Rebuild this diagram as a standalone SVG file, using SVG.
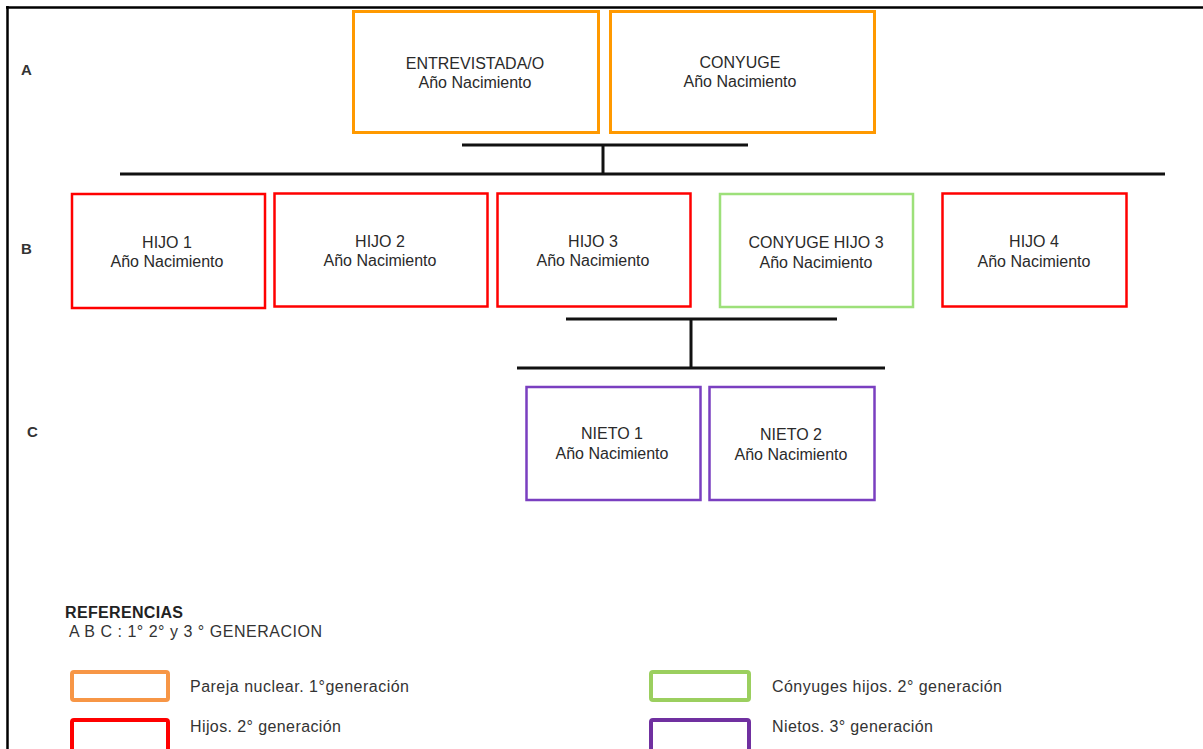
<svg xmlns="http://www.w3.org/2000/svg" width="1203" height="749" viewBox="0 0 1203 749">
<style>
.t{font-family:"Liberation Sans",Arial,sans-serif;font-size:16px;fill:#2a2a2a;text-anchor:middle}
.lbl{font-family:"Liberation Sans",Arial,sans-serif;font-size:15px;font-weight:bold;fill:#333}
.lg{font-family:"Liberation Sans",Arial,sans-serif;font-size:16px;fill:#333}
.box{fill:#fff;stroke-width:2.5}
.or{stroke:#ff9900;stroke-width:3}
.rd{stroke:#ff0000}
.gr{stroke:#9de07a}
.pu{stroke:#7a3fc0}
.ln{stroke:#111;stroke-width:3;fill:none}
.leg{fill:#fff;stroke-width:4}
</style>
<rect width="1203" height="749" fill="#fff"/>
<g id="frame" stroke="#000" stroke-width="2.5" fill="none">
<line x1="6" y1="7.5" x2="1203" y2="7.5"/>
<line x1="7.5" y1="6" x2="7.5" y2="749"/>
</g>
<g id="row-labels">
<text class="lbl" x="21" y="75">A</text>
<text class="lbl" x="21" y="254">B</text>
<text class="lbl" x="27" y="437">C</text>
</g>
<g id="connectors">
<line class="ln" x1="462" y1="145" x2="748" y2="145"/>
<line class="ln" x1="603" y1="145" x2="603" y2="174"/>
<line class="ln" x1="120" y1="174" x2="1165" y2="174"/>
<line class="ln" x1="566" y1="319" x2="837" y2="319"/>
<line class="ln" x1="691" y1="319" x2="691" y2="368"/>
<line class="ln" x1="517" y1="368" x2="885" y2="368"/>
</g>
<g id="entrevistada">
<rect class="box or" x="353.5" y="11.5" width="245" height="121"/>
<text class="t" x="475" y="69">ENTREVISTADA/O</text>
<text class="t" x="475" y="88">Año Nacimiento</text>
</g>
<g id="conyuge">
<rect class="box or" x="610.5" y="11.5" width="264" height="121"/>
<text class="t" x="740" y="68">CONYUGE</text>
<text class="t" x="740" y="87">Año Nacimiento</text>
</g>
<g id="hijo1">
<rect class="box rd" x="72" y="194" width="193" height="114"/>
<text class="t" x="167" y="248">HIJO 1</text>
<text class="t" x="167" y="267">Año Nacimiento</text>
</g>
<g id="hijo2">
<rect class="box rd" x="274.5" y="193.5" width="213" height="113"/>
<text class="t" x="380" y="247">HIJO 2</text>
<text class="t" x="380" y="266">Año Nacimiento</text>
</g>
<g id="hijo3">
<rect class="box rd" x="497.5" y="193.5" width="193" height="113"/>
<text class="t" x="593" y="247">HIJO 3</text>
<text class="t" x="593" y="266">Año Nacimiento</text>
</g>
<g id="conyuge-hijo3">
<rect class="box gr" x="720" y="194" width="193" height="113"/>
<text class="t" x="816" y="248">CONYUGE HIJO 3</text>
<text class="t" x="816" y="268">Año Nacimiento</text>
</g>
<g id="hijo4">
<rect class="box rd" x="942.5" y="193.5" width="184" height="113"/>
<text class="t" x="1034" y="247">HIJO 4</text>
<text class="t" x="1034" y="267">Año Nacimiento</text>
</g>
<g id="nieto1">
<rect class="box pu" x="526.5" y="387" width="174" height="113"/>
<text class="t" x="612" y="439">NIETO 1</text>
<text class="t" x="612" y="459">Año Nacimiento</text>
</g>
<g id="nieto2">
<rect class="box pu" x="709.5" y="387" width="165" height="113"/>
<text class="t" x="791" y="440">NIETO 2</text>
<text class="t" x="791" y="460">Año Nacimiento</text>
</g>
<g id="legend">
<text x="65" y="618" font-family="'Liberation Sans',Arial,sans-serif" font-size="16" font-weight="bold" fill="#222" textLength="118" lengthAdjust="spacing">REFERENCIAS</text>
<text class="lg" x="69" y="637" textLength="253" lengthAdjust="spacing">A B C : 1° 2° y 3 ° GENERACION</text>
<rect class="leg" x="72" y="672" width="96" height="28" rx="2" stroke="#f79646"/>
<text class="lg" x="190" y="692" textLength="219" lengthAdjust="spacing">Pareja nuclear. 1°generación</text>
<rect class="leg" x="72" y="720" width="96" height="40" rx="2" stroke="#ff0000"/>
<text class="lg" x="190" y="732" textLength="151" lengthAdjust="spacing">Hijos. 2° generación</text>
<rect class="leg" x="651" y="672" width="98" height="28" rx="2" stroke="#9bcf5f"/>
<text class="lg" x="772" y="692" textLength="230" lengthAdjust="spacing">Cónyuges hijos. 2° generación</text>
<rect class="leg" x="651" y="720" width="98" height="40" rx="2" stroke="#7030a0"/>
<text class="lg" x="772" y="732" textLength="161" lengthAdjust="spacing">Nietos. 3° generación</text>
</g>
</svg>
